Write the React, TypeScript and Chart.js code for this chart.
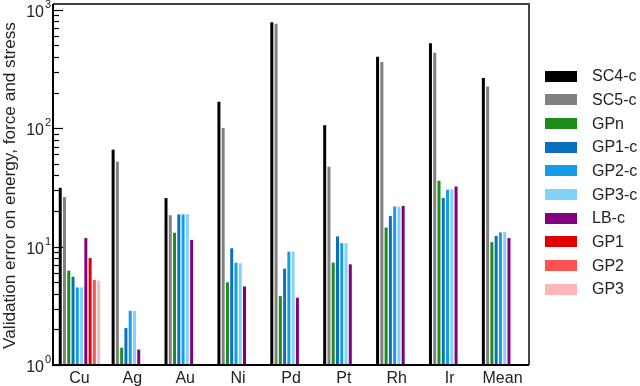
import React, { useEffect, useRef } from "react";
import { Chart, registerables } from "chart.js";
Chart.register(...registerables);

const categories = ["Cu", "Ag", "Au", "Ni", "Pd", "Pt", "Rh", "Ir", "Mean"];
const seriesNames = ["SC4-c", "SC5-c", "GPn", "GP1-c", "GP2-c", "GP3-c", "LB-c", "GP1", "GP2", "GP3"];
const seriesColors = ["#000000", "#808080", "#1c8c1c", "#0a6fbd", "#139de6", "#82d1f7", "#800080", "#e00000", "#ff5252", "#ffb6b9"];
const sc4c = [31.4, 65.9, 25.7, 167, 786, 106, 402, 522, 265];
const sc5c = [26.2, 52.2, 18.4, 100.7, 761, 47.3, 363, 435, 225];
const gpn = [6.26, 1.4, 13.1, 4.99, 3.82, 7.32, 14.5, 36.0, 10.9];
const gp1c = [5.57, 2.05, 18.7, 9.68, 6.51, 12.2, 18.1, 25.7, 12.3];
const gp2c = [4.52, 2.87, 18.7, 7.32, 9.07, 10.7, 21.8, 30.2, 13.2];
const gp3c = [4.52, 2.87, 18.8, 7.25, 9.07, 10.7, 21.8, 30.4, 13.3];
const lbc = [11.8, 1.35, 11.4, 4.61, 3.7, 7.08, 22.1, 32.2, 11.8];
const gp1 = [8.0, null, null, null, null, null, null, null, null];
const gp2 = [5.22, null, null, null, null, null, null, null, null];
const gp3 = [5.15, null, null, null, null, null, null, null, null];
const seriesValues = [sc4c, sc5c, gpn, gp1c, gp2c, gp3c, lbc, gp1, gp2, gp3];
const yExponents = [0, 1, 2, 3];
const yTitle = "Validation error on energy, force and stress";

const FONT = "'Liberation Sans', Arial, sans-serif";

const decorPlugin = {
  id: "decor",
  afterDraw(chart: any) {
    const ctx = chart.ctx;
    const { left, right, top, bottom } = chart.chartArea;
    const y = chart.scales.y;
    ctx.save();
    // frame
    ctx.strokeStyle = "#444";
    ctx.lineWidth = 2;
    ctx.beginPath();
    ctx.moveTo(left, top);
    ctx.lineTo(right, top);
    ctx.lineTo(right, bottom);
    ctx.stroke();
    ctx.strokeStyle = "#000";
    ctx.beginPath();
    ctx.moveTo(left, top);
    ctx.lineTo(left, bottom);
    ctx.lineTo(right, bottom);
    ctx.stroke();
    // ticks
    ctx.lineWidth = 1.2;
    for (const e of yExponents) {
      const py = Math.round(y.getPixelForValue(Math.pow(10, e))) + 0.5;
      ctx.beginPath();
      ctx.moveTo(left, py);
      ctx.lineTo(left + 10, py);
      ctx.stroke();
      if (e < 3) {
        for (let m = 2; m <= 9; m++) {
          const my = Math.round(y.getPixelForValue(m * Math.pow(10, e))) + 0.5;
          ctx.beginPath();
          ctx.moveTo(left, my);
          ctx.lineTo(left + 6, my);
          ctx.stroke();
        }
      }
      // labels
      ctx.fillStyle = "#222";
      ctx.font = `16px ${FONT}`;
      ctx.textAlign = "right";
      ctx.textBaseline = "middle";
      ctx.fillText("10", left - 9, py + 2);
      ctx.font = `11px ${FONT}`;
      ctx.textAlign = "left";
      ctx.fillText(String(e), left - 8, py - 6);
    }
    // y title
    ctx.save();
    ctx.font = `15px ${FONT}`;
    const w15 = ctx.measureText(yTitle).width;
    const size = (15 * 327) / w15;
    ctx.translate(10, 185.5);
    ctx.rotate(-Math.PI / 2);
    ctx.font = `${size.toFixed(2)}px ${FONT}`;
    ctx.fillStyle = "#222";
    ctx.textAlign = "center";
    ctx.textBaseline = "middle";
    ctx.fillText(yTitle, 0, 0);
    ctx.restore();
    // legend
    chart.data.datasets.forEach((ds: any, i: number) => {
      const cy = 76 + i * 23.67;
      ctx.fillStyle = ds.backgroundColor;
      ctx.fillRect(545, Math.round(cy - 5.5), 32, 11);
      ctx.fillStyle = "#222";
      ctx.font = `16px ${FONT}`;
      ctx.textAlign = "left";
      ctx.textBaseline = "middle";
      ctx.fillText(ds.label, 592, cy + 1);
    });
    ctx.restore();
  },
};

export default function App() {
  const ref = useRef<HTMLCanvasElement>(null);
  useEffect(() => {
    if (!ref.current) return;
    const chart = new Chart(ref.current, {
      type: "bar",
      data: {
        labels: categories,
        datasets: seriesNames.map((name, i) => ({
          label: name,
          data: seriesValues[i] as any,
          backgroundColor: seriesColors[i],
          borderWidth: 0,
          barPercentage: 0.7,
          categoryPercentage: 0.807,
        })),
      },
      options: {
        animation: false,
        responsive: true,
        maintainAspectRatio: false,
        layout: { padding: { left: 0, right: 111, top: 4, bottom: 0 } },
        plugins: { legend: { display: false }, tooltip: { enabled: false } },
        scales: {
          x: {
            type: "category",
            grid: { display: false, drawTicks: false },
            border: { display: false },
            ticks: { color: "#222", font: { family: FONT, size: 16 }, padding: 4 },
            afterFit: (s: any) => { s.height = 21; },
          },
          y: {
            type: "logarithmic",
            min: 1,
            max: 1120,
            grid: { display: false, drawTicks: false },
            border: { display: false },
            ticks: { display: false },
            afterFit: (s: any) => { s.width = 53; },
          },
        },
      },
      plugins: [decorPlugin],
    });
    return () => chart.destroy();
  }, []);
  return (
    <div style={{ position: "fixed", left: 0, top: 0, width: 640, height: 386, background: "#fff" }}>
      <canvas ref={ref} />
    </div>
  );
}
